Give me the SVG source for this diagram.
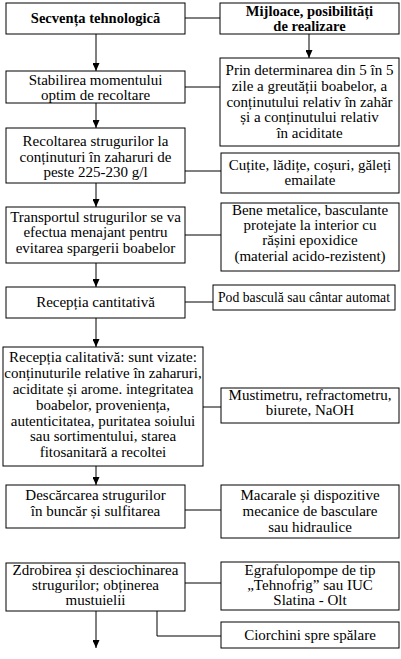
<svg xmlns="http://www.w3.org/2000/svg" width="401" height="659" viewBox="0 0 401 659">
<style>
.box{fill:#fff;stroke:#000;stroke-width:1}
.t{font-family:'Liberation Serif','Times New Roman',serif;font-size:15px;fill:#000;text-anchor:middle}
.b{font-weight:bold;font-size:14.5px}
.c{stroke:#000;stroke-width:1;fill:none}
</style>
<defs>
<marker id="ah" markerUnits="userSpaceOnUse" markerWidth="8" markerHeight="7" refX="8" refY="3.5" orient="auto">
<path d="M0,0 L8,3.5 L0,7 z" fill="#000"/>
</marker>
</defs>
<rect width="401" height="659" fill="#fff"/>
<g id="connectors">
<line class="c" x1="96" y1="34" x2="96" y2="71" marker-end="url(#ah)"/>
<line class="c" x1="96" y1="103" x2="96" y2="128" marker-end="url(#ah)"/>
<line class="c" x1="96" y1="183" x2="96" y2="207" marker-end="url(#ah)"/>
<line class="c" x1="96" y1="263" x2="96" y2="287" marker-end="url(#ah)"/>
<line class="c" x1="96" y1="318" x2="96" y2="347" marker-end="url(#ah)"/>
<line class="c" x1="96" y1="466" x2="96" y2="485" marker-end="url(#ah)"/>
<line class="c" x1="96" y1="611" x2="96" y2="648" marker-end="url(#ah)"/>
<line class="c" x1="309" y1="34" x2="309" y2="58" marker-end="url(#ah)"/>
<line class="c" x1="185" y1="18" x2="220" y2="18"/>
<line class="c" x1="185" y1="87" x2="220" y2="87"/>
<line class="c" x1="185" y1="171" x2="221" y2="171"/>
<line class="c" x1="185" y1="235" x2="221" y2="235"/>
<line class="c" x1="185" y1="302" x2="213" y2="302"/>
<line class="c" x1="203" y1="407" x2="221" y2="407"/>
<line class="c" x1="185" y1="510" x2="221" y2="510"/>
<line class="c" x1="185" y1="583" x2="221" y2="583"/>
<polyline class="c" points="157,611 157,636 221,636"/>
</g>
<g id="n1"><rect class="box" x="6" y="3" width="179" height="31"/><text class="t b" x="95.5" y="23">Secvența tehnologică</text></g>
<g id="r1"><rect class="box" x="220" y="3" width="179" height="31"/><text class="t b" x="309.5" y="16">Mijloace, posibilități</text><text class="t b" x="309.5" y="31">de realizare</text></g>
<g id="n2"><rect class="box" x="6" y="71" width="179" height="32"/><text class="t" x="95.5" y="85">Stabilirea momentului</text><text class="t" x="95.5" y="100">optim de recoltare</text></g>
<g id="r2"><rect class="box" x="220" y="58" width="179" height="88"/><text class="t" x="309.5" y="75">Prin determinarea din 5 în 5</text><text class="t" x="309.5" y="91">zile a greutății boabelor, a</text><text class="t" x="309.5" y="107">conținutului relativ în zahăr</text><text class="t" x="309.5" y="122">și a conținutului relativ</text><text class="t" x="309.5" y="138">în aciditate</text></g>
<g id="n3"><rect class="box" x="6" y="128" width="179" height="55"/><text class="t" x="95.5" y="146">Recoltarea strugurilor la</text><text class="t" x="95.5" y="162">conținuturi în zaharuri de</text><text class="t" x="95.5" y="177">peste 225-230 g/l</text></g>
<g id="r3"><rect class="box" x="221" y="153" width="178" height="40"/><text class="t" x="310" y="170">Cuțite, lădițe, coșuri, găleți</text><text class="t" x="310" y="185">emailate</text></g>
<g id="n4"><rect class="box" x="6" y="207" width="179" height="56"/><text class="t" x="95.5" y="222">Transportul strugurilor se va</text><text class="t" x="95.5" y="237">efectua menajant pentru</text><text class="t" x="95.5" y="253">evitarea spargerii boabelor</text></g>
<g id="r4"><rect class="box" x="221" y="203" width="178" height="68"/><text class="t" x="310" y="215">Bene metalice, basculante</text><text class="t" x="310" y="230">protejate la interior cu</text><text class="t" x="310" y="245">rășini epoxidice</text><text class="t" x="310" y="261">(material acido-rezistent)</text></g>
<g id="n5"><rect class="box" x="6" y="287" width="179" height="31"/><text class="t" x="95.5" y="307">Recepția cantitativă</text></g>
<g id="r5"><rect class="box" x="213" y="285" width="182" height="25"/><text class="t" style="font-size:14px" x="304" y="302" textLength="172" lengthAdjust="spacingAndGlyphs">Pod basculă sau cântar automat</text></g>
<g id="n6"><rect class="box" x="3" y="347" width="200" height="119"/><text class="t" x="103" y="362">Recepția calitativă: sunt vizate:</text><text class="t" x="103" y="378">conținuturile relative în zaharuri,</text><text class="t" x="103" y="394">aciditate și arome. integritatea</text><text class="t" x="103" y="410">boabelor, proveniența,</text><text class="t" x="103" y="426">autenticitatea, puritatea soiului</text><text class="t" x="103" y="441">sau sortimentului, starea</text><text class="t" x="103" y="457">fitosanitară a recoltei</text></g>
<g id="r6"><rect class="box" x="221" y="388" width="178" height="35"/><text class="t" x="310" y="400">Mustimetru, refractometru,</text><text class="t" x="310" y="415">biurete, NaOH</text></g>
<g id="n7"><rect class="box" x="6" y="485" width="179" height="43"/><text class="t" x="95.5" y="500">Descărcarea strugurilor</text><text class="t" x="95.5" y="516">în buncăr și sulfitarea</text></g>
<g id="r7"><rect class="box" x="221" y="485" width="178" height="53"/><text class="t" x="310" y="500">Macarale și dispozitive</text><text class="t" x="310" y="516">mecanice de basculare</text><text class="t" x="310" y="532">sau hidraulice</text></g>
<g id="n8"><rect class="box" x="6" y="563" width="179" height="48"/><text class="t" x="95.5" y="575">Zdrobirea și desciochinarea</text><text class="t" x="95.5" y="590">strugurilor; obținerea</text><text class="t" x="95.5" y="605">mustuielii</text></g>
<g id="r8"><rect class="box" x="221" y="562" width="178" height="48"/><text class="t" x="310" y="575">Egrafulopompe de tip</text><text class="t" x="310" y="590">„Tehnofrig” sau IUC</text><text class="t" x="310" y="605">Slatina - Olt</text></g>
<g id="r9"><rect class="box" x="221" y="622" width="178" height="26"/><text class="t" x="310" y="640">Ciorchini spre spălare</text></g>
</svg>
